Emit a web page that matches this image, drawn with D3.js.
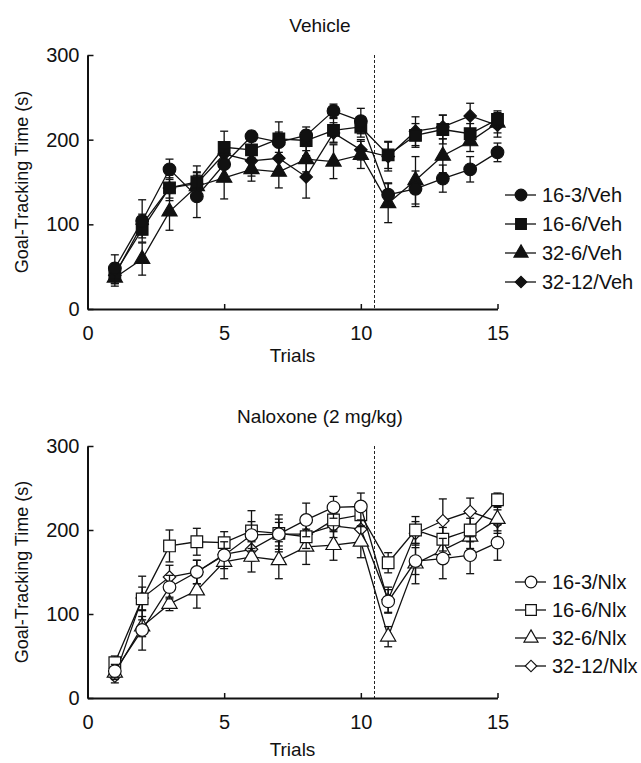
<!DOCTYPE html>
<html>
<head>
<meta charset="utf-8">
<script src="https://cdn.jsdelivr.net/npm/d3@7"></script>
<style>
  body { margin: 0; background: #fff; }
  text { font-family: "Liberation Sans", Arial, sans-serif; fill: #111; }
</style>
</head>
<body>
<svg id="chart" width="641" height="763"></svg>
<script>
// data
const trials = [1, 2, 3, 4, 5, 6, 7, 8, 9, 10, 11, 12, 13, 14, 15];

const veh16_3 = [48, 104, 165, 133, 171, 204, 197, 205, 234, 222, 135, 142, 154, 165, 185];
const veh16_3Err = [16, 25, 12, 25, 18, 6, 12, 10, 8, 15, 14, 21, 16, 15, 11];
const veh16_6 = [42, 94, 143, 150, 191, 188, 201, 199, 211, 215, 182, 205, 212, 207, 224];
const veh16_6Err = [12, 10, 15, 19, 19, 12, 20, 12, 14, 12, 16, 14, 17, 12, 10];
const veh32_6 = [37, 59, 115, 145, 155, 165, 162, 177, 174, 182, 125, 152, 181, 198, 220];
const veh32_6Err = [10, 19, 22, 16, 25, 14, 19, 15, 20, 16, 23, 28, 20, 12, 12];
const veh32_12 = [40, 100, 143, 148, 183, 175, 178, 156, 208, 188, 180, 210, 215, 228, 217];
const veh32_12Err = [10, 12, 12, 14, 14, 18, 14, 25, 12, 12, 17, 17, 14, 15, 14];

const nlx16_3 = [32, 81, 132, 150, 170, 194, 195, 212, 227, 228, 115, 163, 166, 170, 185];
const nlx16_3Err = [8, 24, 14, 14, 16, 16, 18, 20, 13, 16, 14, 16, 24, 22, 21];
const nlx16_6 = [42, 118, 181, 186, 185, 199, 196, 192, 212, 218, 161, 200, 189, 200, 236];
const nlx16_6Err = [8, 14, 19, 16, 13, 24, 22, 14, 14, 14, 12, 16, 14, 14, 8];
const nlx32_6 = [30, 85, 112, 128, 162, 168, 164, 180, 182, 186, 73, 160, 176, 192, 213];
const nlx32_6Err = [8, 12, 8, 21, 20, 18, 22, 21, 18, 19, 12, 24, 14, 14, 14];
const nlx32_12 = [26, 119, 144, 150, 171, 177, 195, 195, 205, 201, 117, 196, 211, 222, 210];
const nlx32_12Err = [8, 26, 14, 14, 14, 14, 14, 14, 14, 14, 15, 14, 26, 16, 14];

const yTicks = [0, 100, 200, 300];
const xTicks = [0, 5, 10, 15];
const breakTrial = 10.5;

const panels = [
  {
    title: "Vehicle", top: 55, bottom: 309, open: false,
    legendX: 505, legendY: 195,
    series: [
      { name: "16-3/Veh", shape: "circle", values: veh16_3, err: veh16_3Err },
      { name: "16-6/Veh", shape: "square", values: veh16_6, err: veh16_6Err },
      { name: "32-6/Veh", shape: "triangle", values: veh32_6, err: veh32_6Err },
      { name: "32-12/Veh", shape: "diamond", values: veh32_12, err: veh32_12Err }
    ]
  },
  {
    title: "Naloxone (2 mg/kg)", top: 446, bottom: 698, open: true,
    legendX: 515, legendY: 582,
    series: [
      { name: "16-3/Nlx", shape: "circle", values: nlx16_3, err: nlx16_3Err },
      { name: "16-6/Nlx", shape: "square", values: nlx16_6, err: nlx16_6Err },
      { name: "32-6/Nlx", shape: "triangle", values: nlx32_6, err: nlx32_6Err },
      { name: "32-12/Nlx", shape: "diamond", values: nlx32_12, err: nlx32_12Err }
    ]
  }
];

// diamond = square turned 45 degrees
const symbolTypes = {
  circle: d3.symbolCircle,
  square: d3.symbolSquare,
  triangle: d3.symbolTriangle,
  diamond: d3.symbolSquare
};
const symbolSizes = { circle: 125, square: 135, triangle: 100, diamond: 78 };
const symbolRot = shape => (shape === "diamond" ? 45 : 0);

const svg = d3.select("#chart");
const left = 87.5, right = 497.5;

const x = d3.scaleLinear().domain([0, 15]).range([left, right]);

panels.forEach(p => {
  const y = d3.scaleLinear().domain([0, 300]).range([p.bottom, p.top]);
  const g = svg.append("g");

  // title
  g.append("text")
    .attr("x", 320).attr("y", p.top - 30)
    .attr("text-anchor", "middle")
    .attr("dominant-baseline", "central")
    .style("font-size", "19px")
    .text(p.title);

  // break line between trial blocks
  g.append("line")
    .attr("x1", x(breakTrial)).attr("x2", x(breakTrial))
    .attr("y1", p.top).attr("y2", p.bottom)
    .attr("stroke", "#222").attr("stroke-width", 1)
    .attr("stroke-dasharray", "3,2");

  // axes
  const yAxis = g.append("g")
    .attr("transform", `translate(${left},0)`)
    .call(d3.axisLeft(y).tickValues(yTicks).tickSizeInner(-6).tickSizeOuter(0).tickPadding(8));
  const xAxis = g.append("g")
    .attr("transform", `translate(0,${p.bottom})`)
    .call(d3.axisBottom(x).tickValues(xTicks).tickSizeInner(-5).tickSizeOuter(0).tickPadding(17));
  [yAxis, xAxis].forEach(a => {
    a.select(".domain").attr("stroke", "#111").attr("stroke-width", 2);
    a.selectAll(".tick line").attr("stroke", "#111").attr("stroke-width", 1.5);
    a.selectAll(".tick text").style("font-size", "20px").attr("fill", "#111")
      .style("font-family", "'Liberation Sans', Arial, sans-serif");
  });

  g.append("text")
    .attr("x", (left + right) / 2).attr("y", p.bottom + (p.open ? 58 : 53))
    .attr("text-anchor", "middle")
    .style("font-size", "19px")
    .text("Trials");

  g.append("text")
    .attr("transform", `translate(22,${(p.top + p.bottom) / 2}) rotate(-90)`)
    .attr("text-anchor", "middle")
    .attr("dominant-baseline", "central")
    .style("font-size", "18px")
    .text("Goal-Tracking Time (s)");

  const line = d3.line().x((d, i) => x(trials[i])).y(d => y(d));

  // draw series back to front
  p.series.slice().reverse().forEach(s => {
    const sg = g.append("g");
    const eb = sg.selectAll(".eb").data(s.values).enter().append("g");
    eb.append("line")
      .attr("x1", (d, i) => x(trials[i])).attr("x2", (d, i) => x(trials[i]))
      .attr("y1", (d, i) => y(d - s.err[i])).attr("y2", (d, i) => y(d + s.err[i]));
    eb.append("line")
      .attr("x1", (d, i) => x(trials[i]) - 4).attr("x2", (d, i) => x(trials[i]) + 4)
      .attr("y1", (d, i) => y(d + s.err[i])).attr("y2", (d, i) => y(d + s.err[i]));
    eb.append("line")
      .attr("x1", (d, i) => x(trials[i]) - 4).attr("x2", (d, i) => x(trials[i]) + 4)
      .attr("y1", (d, i) => y(d - s.err[i])).attr("y2", (d, i) => y(d - s.err[i]));
    eb.selectAll("line").attr("stroke", "#111").attr("stroke-width", 1.3);

    sg.append("path")
      .datum(s.values)
      .attr("d", line)
      .attr("fill", "none")
      .attr("stroke", "#111")
      .attr("stroke-width", 1.3);

    sg.selectAll(".mk").data(s.values).enter().append("path")
      .attr("transform", (d, i) => `translate(${x(trials[i])},${y(d)}) rotate(${symbolRot(s.shape)})`)
      .attr("d", d3.symbol().type(symbolTypes[s.shape]).size(symbolSizes[s.shape]))
      .attr("fill", p.open ? "#fff" : "#111")
      .attr("stroke", "#111")
      .attr("stroke-width", 1.2);
  });

  // legend
  const lg = g.append("g").attr("transform", `translate(${p.legendX},${p.legendY})`);
  const rowH = p.open ? 28 : 29;
  p.series.forEach((s, i) => {
    const row = lg.append("g").attr("transform", `translate(0,${i * rowH})`);
    row.append("line").attr("x1", 0).attr("x2", 31).attr("y1", 0).attr("y2", 0)
      .attr("stroke", "#111").attr("stroke-width", 1.3);
    row.append("path")
      .attr("transform", `translate(16,0) rotate(${symbolRot(s.shape)})`)
      .attr("d", d3.symbol().type(symbolTypes[s.shape]).size(symbolSizes[s.shape] * 0.85))
      .attr("fill", p.open ? "#fff" : "#111")
      .attr("stroke", "#111").attr("stroke-width", 1.2);
    row.append("text")
      .attr("x", 37).attr("y", 0)
      .attr("dominant-baseline", "central")
      .style("font-size", "20px")
      .text(s.name);
  });
});
</script>
</body>
</html>
